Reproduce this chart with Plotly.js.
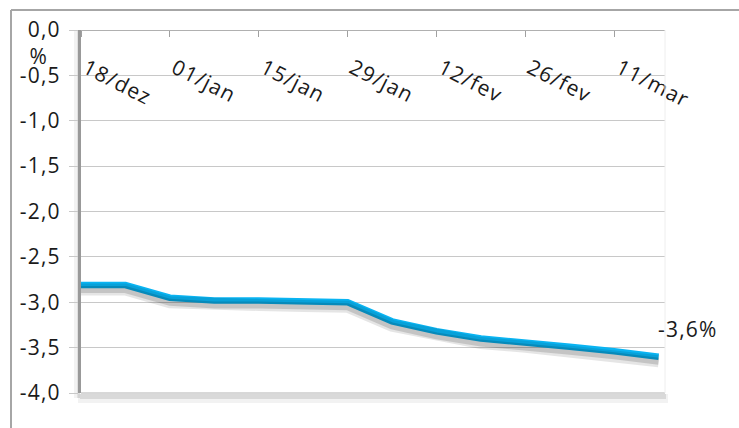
<!DOCTYPE html>
<html>
<head>
<meta charset="utf-8">
<script src="https://cdn.plot.ly/plotly-3.0.1.min.js"></script>
<style>
html,body{margin:0;padding:0;background:#fff;}
#chart{width:739px;height:428px;}
#chart svg text{letter-spacing:1.2px;}
</style>
</head>
<body>
<div id="chart"></div>
<script>
// ---- data ----
var dates = ['2011-12-18','2011-12-25','2012-01-01','2012-01-08','2012-01-15','2012-01-22','2012-01-29',
             '2012-02-05','2012-02-12','2012-02-19','2012-02-26','2012-03-04','2012-03-11','2012-03-18'];
var values = [-2.81,-2.81,-2.95,-2.98,-2.98,-2.99,-3.00,-3.21,-3.32,-3.40,-3.44,-3.49,-3.54,-3.60];
var xTickVals = ['2011-12-18','2012-01-01','2012-01-15','2012-01-29','2012-02-12','2012-02-26','2012-03-11'];
var xTickText = ['18/dez','01/jan','15/jan','29/jan','12/fev','26/fev','11/mar'];
var yTickVals = [0,-0.5,-1,-1.5,-2,-2.5,-3,-3.5,-4];
var yTickText = ['0,0','-0,5','-1,0','-1,5','-2,0','-2,5','-3,0','-3,5','-4,0'];

var FONT = 'Open Sans, Noto Sans, sans-serif';
var FS = 21;
var lastVal = values[values.length-1];
var lastLabel = lastVal.toFixed(1).replace('.', ',') + '%';

var shadowOffset = 0.05;
var traces = [
  {x: dates, y: values, type:'scatter', mode:'lines', yaxis:'y2',
   line:{color:'rgba(0,0,0,0.10)', width:12}, hoverinfo:'skip', showlegend:false},
  {x: dates, y: values, type:'scatter', mode:'lines', yaxis:'y2',
   line:{color:'rgba(0,0,0,0.14)', width:7}, hoverinfo:'skip', showlegend:false},
  {x: dates, y: values, type:'scatter', mode:'lines',
   line:{color:'#0AB4F2', width:6.5}, showlegend:false}
];

function px2x(px){ return (px-81)/584; }
function py2y(py){ return (393-py)/363; }

var shapes = [
  // outer frame
  {type:'line', xref:'paper', yref:'paper', x0:px2x(11), x1:px2x(11), y0:py2y(10), y1:py2y(430), line:{color:'#a6a6a6', width:2}},
  {type:'line', xref:'paper', yref:'paper', x0:px2x(11), x1:px2x(745), y0:py2y(10), y1:py2y(10), line:{color:'#a6a6a6', width:2}},
  // plot area soft shadows
  {type:'rect', xref:'paper', yref:'paper', x0:px2x(74), x1:px2x(80), y0:py2y(398), y1:py2y(31), fillcolor:'rgba(0,0,0,0.05)', line:{width:0}, layer:'below'},
  {type:'rect', xref:'paper', yref:'paper', x0:px2x(77), x1:px2x(80), y0:py2y(398), y1:py2y(31), fillcolor:'rgba(0,0,0,0.07)', line:{width:0}, layer:'below'},
  {type:'rect', xref:'paper', yref:'paper', x0:px2x(78), x1:px2x(668), y0:py2y(394), y1:py2y(403), fillcolor:'rgba(0,0,0,0.05)', line:{width:0}, layer:'below'},
  {type:'rect', xref:'paper', yref:'paper', x0:px2x(80), x1:px2x(666), y0:py2y(394), y1:py2y(399), fillcolor:'rgba(0,0,0,0.10)', line:{width:0}, layer:'below'},
  // bottom edge of plot area
  {type:'line', xref:'paper', yref:'paper', x0:0, x1:1, y0:0, y1:0, line:{color:'#b0b0b0', width:1}},
  // right edge faint
  {type:'line', xref:'paper', yref:'paper', x0:1, x1:1, y0:0, y1:1, line:{color:'#eeeeee', width:1}}
];

var layout = {
  width:739, height:428,
  margin:{l:81, r:74, t:30, b:35},
  paper_bgcolor:'#ffffff', plot_bgcolor:'#ffffff',
  font:{family:FONT, size:FS, color:'#1a1a1a'},
  showlegend:false,
  xaxis:{
    type:'date', range:['2011-12-18','2012-03-19'],
    side:'bottom', anchor:'free', position:1,
    tickvals:xTickVals, ticktext:xTickText, tickangle:27,
    ticks:'outside', ticklen:6, tickcolor:'#a0a0a0', tickwidth:1,
    showline:true, linecolor:'#b0b0b0', linewidth:1,
    showgrid:false, zeroline:false,
    ticklabelstandoff:11, ticklabelshift:5,
    tickfont:{family:FONT, size:FS, color:'#1a1a1a'}
  },
  yaxis:{
    range:[-4,0], tickvals:yTickVals, ticktext:yTickText,
    showgrid:true, gridcolor:'#c8c8c8', gridwidth:1,
    ticks:'outside', ticklen:9, tickcolor:'#c8c8c8',
    showline:true, linecolor:'#999999', linewidth:3,
    zeroline:false, ticklabelstandoff:4,
    tickfont:{family:FONT, size:FS, color:'#1a1a1a'}
  },
  yaxis2:{
    range:[-4+shadowOffset, 0+shadowOffset], overlaying:'y', visible:false
  },
  shapes:shapes,
  annotations:[
    {xref:'paper', yref:'paper', x:px2x(28), y:py2y(40), text:'%', showarrow:false,
     font:{family:FONT, size:FS, color:'#1a1a1a'}},
    {x:dates[dates.length-1], y:lastVal, xref:'x', yref:'y', text:lastLabel, showarrow:false,
     xshift:29, yshift:28, font:{family:FONT, size:FS, color:'#1a1a1a'}}
  ]
};

Plotly.newPlot('chart', traces, layout, {displayModeBar:false, staticPlot:true});
</script>
</body>
</html>
